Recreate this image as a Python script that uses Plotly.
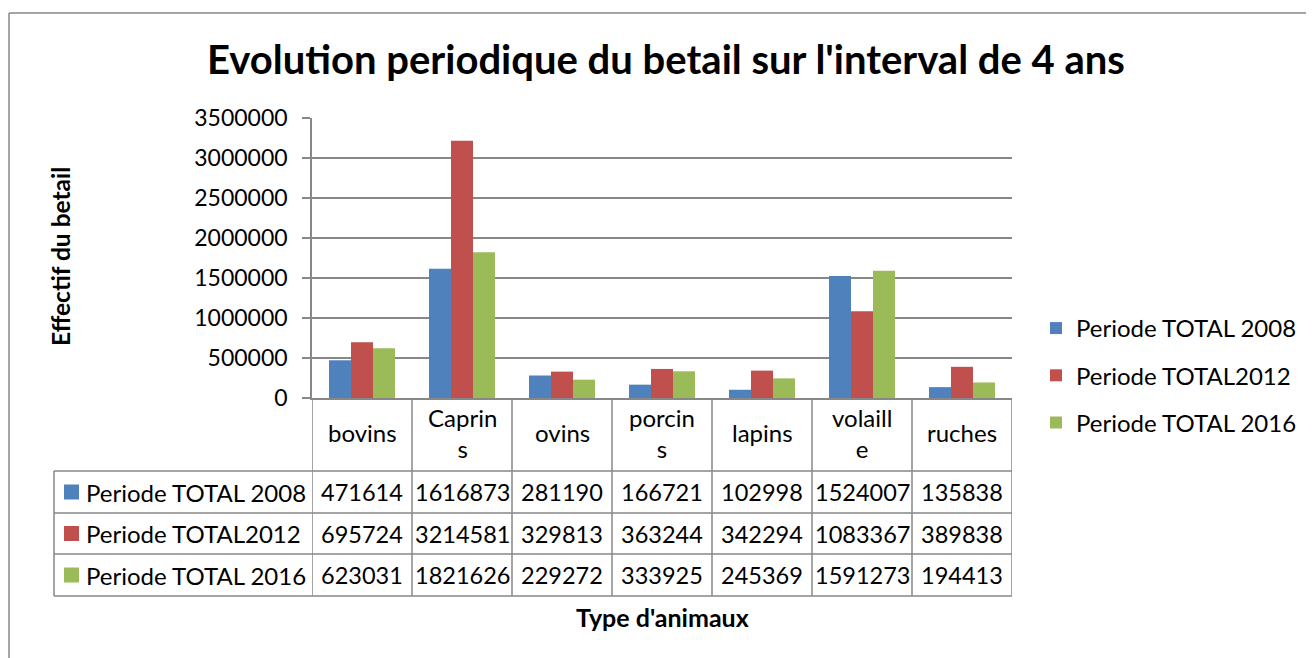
import plotly.graph_objects as go

# ---------------- data ----------------
categories = ["bovins", "Caprins", "ovins", "porcins", "lapins", "volaille", "ruches"]
category_labels = ["bovins", "Caprin<br>s", "ovins", "porcin<br>s", "lapins", "volaill<br>e", "ruches"]
series_names = ["Periode TOTAL 2008", "Periode TOTAL2012", "Periode TOTAL 2016"]
total_2008 = [471614, 1616873, 281190, 166721, 102998, 1524007, 135838]
total_2012 = [695724, 3214581, 329813, 363244, 342294, 1083367, 389838]
total_2016 = [623031, 1821626, 229272, 333925, 245369, 1591273, 194413]
y_ticks = [0, 500000, 1000000, 1500000, 2000000, 2500000, 3000000, 3500000]

series_values = [total_2008, total_2012, total_2016]
colors = ["#4F81BD", "#C0504D", "#9BBB59"]

FONT = "Lato"
GRAY = "#878787"
OFF = 8                      # page body margin in the browser
W, H = 1314 - OFF, 658 - OFF
# plot area in screen pixels
SL, SR, ST, SB = 312, 1012, 118, 398


def px_x(p):
    return (p - SL) / (SR - SL)


def px_y(p):
    return (SB - p) / (SB - ST)


fig = go.Figure()
for name, vals, col in zip(series_names, series_values, colors):
    fig.add_trace(go.Bar(
        x=categories, y=vals, name=name, marker_color=col,
        marker_line_width=0, legendgroup=name,
    ))

shapes = []
annotations = []

# table geometry (screen pixels)
row_lines = [471, 513, 554, 596]
header_center = (SB + row_lines[0]) / 2 - 2
row_centers = [(row_lines[i] + row_lines[i + 1]) / 2 for i in range(3)]
table_left = 54

line_style = dict(color=GRAY, width=1.5)
for i in range(len(categories) + 1):
    shapes.append(dict(type="line", xref="x", yref="paper", x0=i - 0.5, x1=i - 0.5,
                       y0=0, y1=px_y(row_lines[-1]), line=line_style, layer="above"))
for r in row_lines:
    shapes.append(dict(type="line", xref="paper", yref="paper", x0=px_x(table_left), x1=1,
                       y0=px_y(r), y1=px_y(r), line=line_style))
shapes.append(dict(type="line", xref="paper", yref="paper", x0=px_x(table_left), x1=px_x(table_left),
                   y0=px_y(row_lines[0]), y1=px_y(row_lines[-1]), line=line_style))

for i, lab in enumerate(category_labels):
    annotations.append(dict(x=categories[i], xref="x", y=px_y(header_center), yref="paper",
                            text=lab, showarrow=False, xanchor="center", yanchor="middle",
                            font=dict(family=FONT, size=24, color="black")))

for r, (name, vals, col) in enumerate(zip(series_names, series_values, colors)):
    yc = row_centers[r]
    shapes.append(dict(type="rect", xref="paper", yref="paper",
                       x0=px_x(64), x1=px_x(79), y0=px_y(yc + 7.5), y1=px_y(yc - 7.5),
                       fillcolor=col, line=dict(width=0)))
    annotations.append(dict(x=px_x(84), xref="paper", y=px_y(yc), yref="paper", text=name,
                            showarrow=False, xanchor="left", yanchor="middle",
                            font=dict(family=FONT, size=24, color="black")))
    for i, v in enumerate(vals):
        annotations.append(dict(x=categories[i], xref="x", y=px_y(yc), yref="paper", text=str(v),
                                showarrow=False, xanchor="center", yanchor="middle",
                                font=dict(family=FONT, size=23.5, color="black")))

annotations.append(dict(x=px_x(662), xref="paper", y=px_y(617), yref="paper",
                        text="<b>Type d'animaux</b>", showarrow=False,
                        xanchor="center", yanchor="middle",
                        font=dict(family=FONT, size=25, color="black")))
annotations.append(dict(x=px_x(60), xref="paper", y=px_y(257), yref="paper",
                        text="<b>Effectif du betail</b>", showarrow=False, textangle=-90,
                        xanchor="center", yanchor="middle",
                        font=dict(family=FONT, size=24.5, color="black")))

# outer chart border (left and top visible)
shapes.append(dict(type="line", xref="paper", yref="paper", x0=px_x(9), x1=px_x(9),
                   y0=px_y(13), y1=px_y(720), line=dict(color=GRAY, width=1.5)))
shapes.append(dict(type="line", xref="paper", yref="paper", x0=px_x(9), x1=px_x(1400),
                   y0=px_y(13), y1=px_y(13), line=dict(color=GRAY, width=1.5)))

fig.update_layout(
    width=W, height=H, autosize=False,
    margin=dict(l=SL - OFF, r=W - (SR - OFF), t=ST - OFF, b=H - (SB - OFF), pad=0),
    paper_bgcolor="white", plot_bgcolor="white",
    barmode="group", bargap=0.34, bargroupgap=0,
    title=dict(text="<b>Evolution periodique du betail sur l'interval de 4 ans</b>",
               x=(666 - OFF) / W, xanchor="center", y=1 - (60 - OFF) / H, yanchor="middle",
               font=dict(family=FONT, size=40, color="black")),
    font=dict(family=FONT, size=23, color="black"),
    showlegend=True,
    legend=dict(x=px_x(1036), xanchor="left", y=px_y(306), yanchor="top",
                traceorder="grouped", tracegroupgap=13,
                font=dict(family=FONT, size=24, color="black"),
                bgcolor="rgba(0,0,0,0)", borderwidth=0),
    shapes=shapes, annotations=annotations,
)
fig.update_xaxes(type="category", range=[-0.5, len(categories) - 0.5],
                 showticklabels=False, ticks="", showgrid=False,
                 showline=True, linecolor=GRAY, linewidth=1.5, zeroline=False)
fig.update_yaxes(range=[0, 3500000], tickvals=y_ticks, ticktext=[str(v) for v in y_ticks],
                 ticks="outside", ticklen=8, tickcolor=GRAY, tickwidth=1.5,
                 ticklabelstandoff=10,
                 showgrid=True, gridcolor=GRAY, gridwidth=1.5,
                 showline=True, linecolor=GRAY, linewidth=1.5, zeroline=False,
                 tickfont=dict(family=FONT, size=23, color="black"))

fig.write_html("out.html")
